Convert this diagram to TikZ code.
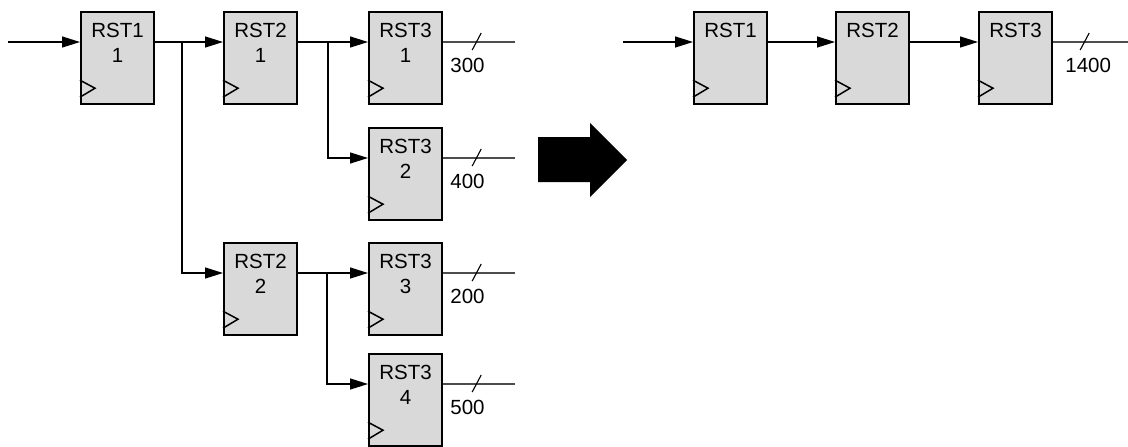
\documentclass[tikz,border=0pt]{standalone}
\usepackage{fontspec}
\setmainfont{Liberation Sans}
\usetikzlibrary{arrows.meta,calc}
\definecolor{boxgray}{HTML}{D9D9D9}
\definecolor{busgray}{HTML}{4D4D4D}
\begin{document}
\begin{tikzpicture}[x=1pt,y=-1pt,
  ff/.style={draw=black, line width=2.2pt, fill=boxgray, minimum width=73pt,
    minimum height=92pt, inner sep=0pt, anchor=north west},
  fftext/.style={anchor=north, inner sep=0pt, yshift=-12pt, align=center,
    font=\fontsize{20.5}{25}\selectfont},
  sig/.style={draw=black, line width=1.3pt, -{Triangle[length=18pt,width=11pt]}},
  wire/.style={draw=black, line width=1.3pt},
  bus/.style={draw=busgray, line width=1.3pt},
  slash/.style={draw=black, line width=1.1pt},
  buslabel/.style={anchor=base west, inner sep=0pt, font=\fontsize{20.5}{25}\selectfont},
  clk/.style={draw=black, line width=1.5pt},
  bigarrow/.style={fill=black, draw=none}
]
\useasboundingbox (0,0) rectangle (1128,447);

% ---- boxes (left) ----
\node[ff, label={[fftext]north:RST1\\1}] (r1) at (80,11) {};
\node[ff, label={[fftext]north:RST2\\1}] (r21) at (223,11) {};
\node[ff, label={[fftext]north:RST3\\1}] (r31) at (368,11) {};
\node[ff, label={[fftext]north:RST3\\2}] (r32) at (368,127) {};
\node[ff, label={[fftext]north:RST2\\2}] (r22) at (223,242) {};
\node[ff, label={[fftext]north:RST3\\3}] (r33) at (368,242) {};
\node[ff, label={[fftext]north:RST3\\4}] (r34) at (368,353) {};
% ---- boxes (right) ----
\node[ff, label={[fftext]north:RST1}] (a1) at (693,11) {};
\node[ff, label={[fftext]north:RST2}] (a2) at (835,11) {};
\node[ff, label={[fftext]north:RST3}] (a3) at (978,11) {};

% pins and clock triangles
\foreach \n in {r1,r21,r31,r32,r22,r33,r34,a1,a2,a3}{
  \coordinate (\n-in) at ($(\n.north west)+(0,31)$);
  \coordinate (\n-out) at ($(\n.north east)+(0,31)$);
  \draw[clk] ($(\n.south west)+(0,-25)$) -- ($(\n.south west)+(15,-17)$) -- ($(\n.south west)+(0,-8)$);
}

% ---- left connectors ----
\coordinate (inL) at (8,42);
\coordinate (b1) at (182,42);
\coordinate (b2) at (328,42);
\coordinate (b3) at (327,273);
\draw[sig] (inL) -- (r1-in);
\draw[sig] (r1-out) -- (r21-in);
\draw[sig] (b1) |- (r22-in);
\draw[sig] (r21-out) -- (r31-in);
\draw[sig] (b2) |- (r32-in);
\draw[sig] (r22-out) -- (r33-in);
\draw[sig] (b3) |- (r34-in);

% outputs with bus width marks
\foreach \n/\w in {r31/300,r32/400,r33/200,r34/500}{
  \coordinate (\n-end) at ($(\n-out)+(72,0)$);
  \draw[bus] (\n-out) -- (\n-end);
  \draw[slash] ($(\n-out)+(29,8)$) -- ($(\n-out)+(38,-9)$);
  \node[buslabel] (\n-lab) at ($(\n-out)+(7,30)$) {\w};
}

% ---- big arrow ----
\fill[bigarrow] (538,137) -- (590,137) -- (590,123) -- (627,160) -- (590,197) -- (590,182) -- (538,182) -- cycle;

% ---- right connectors ----
\coordinate (inR) at (623,42);
\coordinate (a3-end) at (1128,42);
\draw[sig] (inR) -- (a1-in);
\draw[sig] (a1-out) -- (a2-in);
\draw[sig] (a2-out) -- (a3-in);
\draw[bus] (a3-out) -- (a3-end);
\draw[slash] ($(a3-out)+(27,8)$) -- ($(a3-out)+(36,-9)$);
\node[buslabel] (a3-lab) at ($(a3-out)+(12,30)$) {1400};
\end{tikzpicture}
\end{document}
